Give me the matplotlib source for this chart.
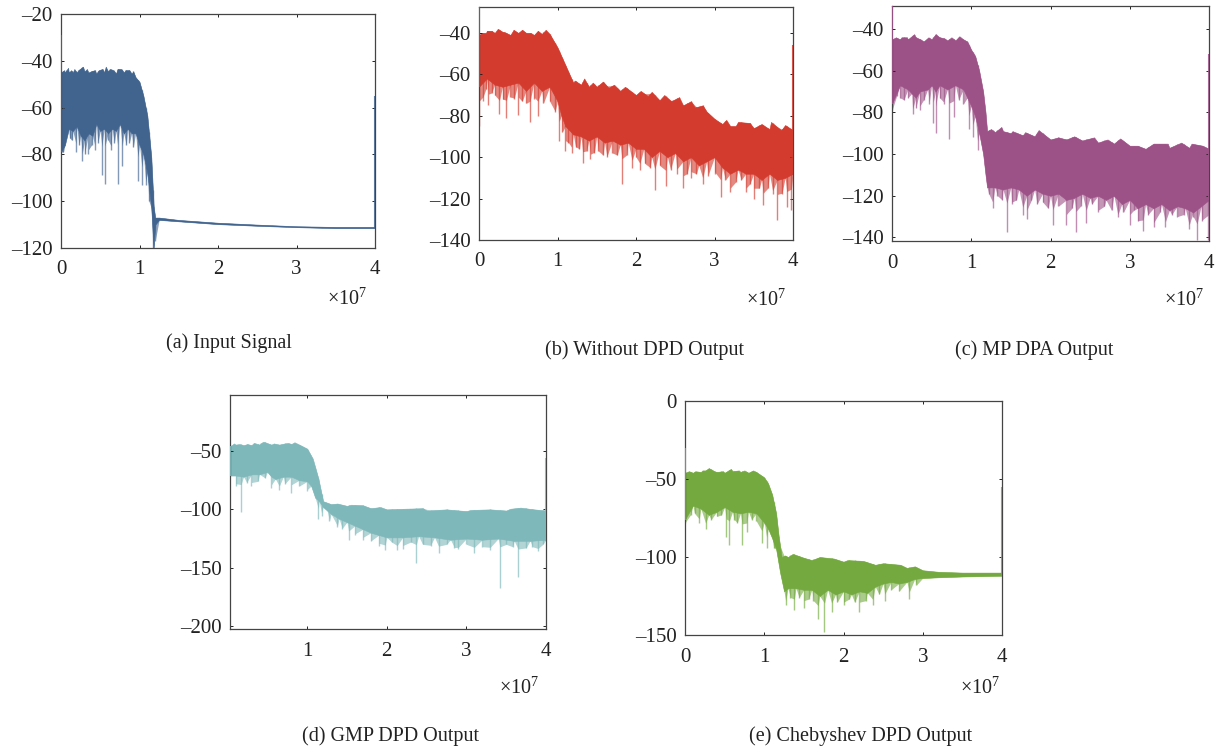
# Спектры выходных сигналов: огибающие и провалы
import matplotlib
matplotlib.use("Agg")
import numpy as np
import matplotlib.pyplot as plt

plt.rcParams['font.family'] = ['Liberation Serif', 'DejaVu Serif']
plt.rcParams['mathtext.default'] = 'regular'
plt.rcParams['mathtext.fontset'] = 'custom'
plt.rcParams['mathtext.rm'] = 'Liberation Serif'

# (a) Input Signal
a_top_x = [0, .05, .1, .15, .2, .3, .35, .45, .55, .6, .7, .8, .9, .95, 1.0, 1.05, 1.1, 1.15, 1.18, 1.2, 1.25, 1.5, 2, 2.5, 3, 3.5, 4]
a_top_y = [-45, -45, -45, -45, -45, -44.5, -45, -45.5, -45, -44.5, -45.5, -45, -45.5, -47, -49, -55, -63.5, -81, -102, -107, -107, -108, -109.2, -110, -110.7, -111, -111]
a_bot_x = [0, .05, .1, .15, .2, .25, .3, .35, .4, .45, .5, .55, .6, .65, .7, .75, .8, .85, .9, .95, 1.0, 1.05, 1.1, 1.15, 1.18, 1.2, 1.25, 1.5, 2, 2.5, 3, 3.5, 4]
a_bot_y = [-79, -76, -69, -70, -68, -72, -74, -71, -72, -67, -70, -69, -71, -69, -70, -67, -71, -69, -71, -71, -76, -80, -88, -103, -120, -110, -108, -108.6, -109.8, -110.5, -111.1, -111.5, -111.5]
a_dip_x = [.03, .07, .11, .14, .19, .23, .27, .3, .35, .39, .43, .47, .52, .56, .6, .64, .68, .72, .78, .83, .87, .92, .98, 1.03, 1.08, 1.12, 1.17, 1.2]
a_dip_y = [-79, -72, -73, -74, -79, -76, -83, -80, -80, -76, -78, -75, -89, -92.5, -74, -78, -75, -92.5, -85, -76, -75, -77, -91.5, -93, -93, -100, -120, -117]
a_peak_x = [.04, .09, .13, .17, .22, .28, .33, .38, .43, .48, .53, .57, .62, .67, .72, .77, .82, .87, .92]
a_peak_y = [-44, -43, -44, -43.5, -44, -42.5, -43.5, -44.5, -44, -44, -43.5, -42.5, -43.5, -44, -43.5, -43.5, -44, -44, -44.5]
a_edges = [-29, -55]

# (b) Without DPD Output
b_top_x = [0, .1, .2, .3, .4, .5, .6, .7, .8, .9, 1.0, 1.1, 1.2, 1.3, 1.4, 1.5, 1.65, 1.8, 2.0, 2.15, 2.3, 2.45, 2.6, 2.75, 2.9, 3.0, 3.1, 3.2, 3.3, 3.5, 3.7, 3.85, 4.0]
b_top_y = [-41, -40, -40, -39.5, -41, -40, -40, -41, -40.5, -40.5, -47, -55.5, -64, -65, -66, -66, -66.5, -68, -70, -70.5, -72.5, -73, -75, -76, -78, -81.5, -84, -85, -85, -86, -86.5, -87, -87]
b_bot_x = [0, .1, .2, .3, .4, .5, .6, .7, .8, .9, 1.0, 1.05, 1.1, 1.2, 1.3, 1.4, 1.5, 1.6, 1.7, 1.8, 1.9, 2.0, 2.1, 2.2, 2.3, 2.4, 2.5, 2.6, 2.7, 2.8, 2.9, 3.0, 3.1, 3.2, 3.3, 3.4, 3.5, 3.6, 3.7, 3.8, 3.9, 4.0]
b_bot_y = [-66, -62, -65, -66, -65, -64, -68, -64, -68, -66, -73, -80, -85, -89, -90, -92, -90, -93, -92, -94, -93, -96, -96, -100, -97, -100, -98, -102, -100, -104, -102, -100, -105, -108, -106, -108, -108, -111, -108, -111, -110, -108]
b_dip_x = [0, .05, .09, .12, .16, .2, .26, .3, .35, .4, .45, .5, .55, .6, .65, .7, .75, .82, .9, .97, 1.02, 1.06, 1.1, 1.14, 1.18, 1.23, 1.28, 1.32, 1.37, 1.42, 1.47, 1.52, 1.58, 1.63, 1.7, 1.76, 1.82, 1.88, 1.95, 2.0, 2.05, 2.11, 2.18, 2.24, 2.3, 2.38, 2.44, 2.52, 2.6, 2.65, 2.7, 2.77, 2.85, 2.92, 3.0, 3.08, 3.14, 3.2, 3.27, 3.34, 3.4, 3.45, 3.5, 3.57, 3.62, 3.68, 3.74, 3.8, 3.86, 3.92, 3.98]
b_dip_y = [-85, -73, -67, -75, -69, -70, -79, -72, -81, -71, -72, -79.5, -73, -74, -83, -72, -80, -74, -73, -78, -92, -88, -97, -93, -98, -95, -96, -103, -97, -101, -98, -97, -99, -100, -98, -99, -113, -99, -105, -100, -106, -103, -105, -116, -104, -114, -106, -108, -115, -108, -110, -108, -113, -109, -108, -119, -111, -117, -112, -111, -117, -113, -120, -115, -123, -115, -118, -130.5, -118, -124, -125.5]
b_peak_x = [.04, .1, .16, .24, .32, .44, .55, .66, .75, .85, 1.22, 1.34, 1.45, 1.58, 1.72, 1.86, 2.06, 2.2, 2.36, 2.55, 2.7, 2.85, 3.15, 3.3, 3.45, 3.6, 3.72, 3.9]
b_peak_y = [-40, -39, -39, -38, -39.5, -38.5, -38.5, -40, -39, -38.5, -63, -62, -64, -63.5, -65, -66, -68, -68.5, -70, -71, -73, -75, -82, -83, -83.5, -84, -83, -84.5]
b_edges = [-27.5, -46]

# (c) MP DPA Output
c_top_x = [0, .1, .2, .3, .4, .5, .6, .7, .8, .9, .95, 1.0, 1.05, 1.1, 1.15, 1.18, 1.2, 1.3, 1.4, 1.5, 1.65, 1.8, 2.0, 2.2, 2.4, 2.6, 2.8, 3.0, 3.2, 3.5, 3.75, 4]
c_top_y = [-45, -45, -45, -44, -46, -45, -44, -45.5, -45.5, -45, -46, -50, -53, -60, -70, -80, -89, -89.5, -89, -90, -91, -91.5, -93, -93, -93.5, -94.5, -95, -96, -97.5, -97, -97, -97.5]
c_bot_x = [0, .1, .2, .25, .3, .35, .45, .5, .55, .6, .7, .8, .9, .95, 1.0, 1.05, 1.1, 1.15, 1.18, 1.2, 1.3, 1.4, 1.5, 1.6, 1.7, 1.8, 1.9, 2.0, 2.1, 2.2, 2.3, 2.4, 2.5, 2.6, 2.7, 2.8, 2.9, 3.0, 3.1, 3.2, 3.3, 3.4, 3.5, 3.6, 3.7, 3.8, 3.9, 4.0]
c_bot_y = [-76, -67, -69, -71, -73, -70, -69, -67, -70, -67, -69, -67, -69, -73, -77, -82, -90, -100, -110, -116, -116, -117, -116, -117, -120, -117, -119, -120, -119, -122, -121, -119, -121, -120, -122, -120, -124, -122, -126, -124, -126, -124, -127, -125, -126, -128, -125, -122]
c_dip_x = [0, .06, .1, .15, .2, .26, .3, .35, .4, .47, .52, .55, .6, .65, .72, .78, .84, .9, .97, 1.02, 1.08, 1.22, 1.27, 1.33, 1.39, 1.45, 1.51, 1.57, 1.65, 1.7, 1.76, 1.83, 1.9, 1.97, 2.03, 2.1, 2.2, 2.27, 2.32, 2.38, 2.45, 2.52, 2.6, 2.68, 2.77, 2.85, 2.92, 3.0, 3.05, 3.1, 3.17, 3.23, 3.3, 3.38, 3.45, 3.53, 3.6, 3.68, 3.75, 3.8, 3.85, 3.91, 3.99]
c_dip_y = [-79, -72, -73, -74, -73, -81, -78, -79, -74, -76, -85, -90, -73, -76, -93, -82, -74, -76, -88, -92, -98, -119, -126, -120, -122, -137.5, -124, -122, -129, -131, -122, -124, -123, -126, -134, -125, -134, -126, -137.5, -125, -133, -124, -128, -125, -127, -130, -128, -134, -127, -132, -137, -129, -135, -128, -135, -129, -130, -129, -136, -130, -141, -132, -141]
c_peak_x = [.05, .12, .19, .28, .36, .46, .55, .66, .75, .85, 1.25, 1.38, 1.52, 1.68, 1.85, 2.1, 2.3, 2.55, 2.72, 2.88, 3.1, 3.3, 3.48, 3.65, 3.78, 3.92]
c_peak_y = [-44, -44, -44, -42.5, -45, -44, -42.5, -44.5, -44, -43.5, -88, -87, -89, -89.5, -88.5, -92, -91.5, -92, -93, -92.5, -96, -95, -95, -94.5, -95, -96]
c_edges = [-29, -52]

# (d) GMP DPD Output
d_top_x = [.03, .1, .2, .3, .4, .45, .55, .65, .8, .9, 1.0, 1.07, 1.14, 1.2, 1.3, 1.5, 1.8, 2, 2.5, 3, 3.5, 4]
d_top_y = [-46, -44.5, -45, -45, -44.5, -44, -44.5, -44.5, -44, -44.5, -48, -56.5, -73.5, -93, -95.5, -97, -99, -100, -101, -101.5, -101, -101]
d_bot_x = [.03, .1, .2, .3, .4, .5, .55, .6, .7, .8, .9, 1.0, 1.05, 1.1, 1.15, 1.2, 1.25, 1.3, 1.4, 1.5, 1.6, 1.7, 1.8, 1.9, 2.0, 2.2, 2.4, 2.6, 2.8, 3.0, 3.2, 3.4, 3.6, 3.8, 4]
d_bot_y = [-71, -71, -72, -70, -70, -68, -72, -74, -72, -72, -75, -76, -80, -90, -93, -98, -101, -104, -108, -111, -114, -117, -120, -122, -124, -124, -123, -124, -126, -125, -126, -125, -127, -127, -126]
d_dip_x = [.1, .17, .24, .3, .38, .47, .55, .65, .72, .8, .9, 1.0, 1.14, 1.18, 1.28, 1.38, 1.44, 1.52, 1.6, 1.7, 1.8, 1.9, 1.98, 2.06, 2.13, 2.2, 2.3, 2.37, 2.45, 2.55, 2.65, 2.75, 2.85, 2.9, 3.0, 3.1, 3.2, 3.3, 3.42, 3.5, 3.58, 3.65, 3.75, 3.83, 3.9, 3.96]
d_dip_y = [-80, -102, -77, -80, -76, -73, -82, -83, -78, -86, -80, -84, -108, -106, -110, -115, -117, -126, -122, -126, -127, -131, -135, -128, -135, -134, -128, -146, -130, -131, -137, -130, -133, -134, -130, -137, -132, -135, -167, -130, -132, -158, -133, -132, -136, -130]
d_peak_x = [.08, .15, .25, .33, .41, .45, .58, .68, .76, .84, 1.24, 1.38, 1.55, 1.7, 1.92, 2.2, 2.45, 2.75, 3.05, 3.3, 3.55, 3.68, 3.85]
d_peak_y = [-43.5, -44, -44, -43, -43.5, -42, -43.5, -44, -43, -42.5, -94, -95, -96, -96.5, -98, -99.5, -99, -100, -100.5, -100, -99.5, -98.5, -100]
d_edges = [-46, -56]

# (e) Chebyshev DPD Output
e_top_x = [0, .1, .2, .3, .4, .5, .6, .7, .8, .9, 1.0, 1.05, 1.1, 1.15, 1.18, 1.22, 1.3, 1.6, 2.0, 2.4, 2.8, 3.0, 3.2, 3.5, 4]
e_top_y = [-46, -46, -45.5, -44.5, -45.5, -46, -45, -45.5, -46, -45.5, -49, -53, -60, -72, -86, -100, -100, -102, -103, -105, -107, -108.5, -109.5, -110, -110]
e_bot_x = [0, .1, .2, .3, .4, .5, .6, .7, .8, .9, 1.0, 1.05, 1.1, 1.15, 1.2, 1.25, 1.3, 1.4, 1.5, 1.6, 1.7, 1.8, 1.9, 2.0, 2.1, 2.2, 2.3, 2.4, 2.5, 2.6, 2.7, 2.8, 2.9, 3.0, 3.2, 3.5, 4]
e_bot_y = [-76, -67, -69, -73, -71, -68, -71, -72, -71, -72, -78, -82, -88, -95, -110, -122, -120, -120, -121, -121, -125, -121, -124, -122, -124, -122, -123, -119, -117, -116, -117, -116, -114, -113.5, -113, -112.5, -112]
e_dip_x = [0, .07, .12, .18, .26, .33, .4, .46, .52, .56, .62, .66, .72, .78, .84, .9, .97, 1.03, 1.12, 1.27, 1.33, 1.38, 1.44, 1.5, 1.56, 1.62, 1.68, 1.76, 1.85, 1.92, 2.0, 2.07, 2.14, 2.2, 2.28, 2.37, 2.45, 2.52, 2.6, 2.7, 2.83, 2.92]
e_dip_y = [-78, -73, -72, -78, -82, -76, -74, -73, -87, -92, -76, -78, -92, -84, -76, -77, -91, -94, -94, -131, -126, -134, -126, -133, -127, -128, -140, -148, -135, -129, -131, -127, -129, -135, -128, -131, -124, -128, -121, -122, -127, -118]
e_peak_x = [.05, .13, .22, .3, .37, .48, .58, .68, .75, .86, 1.26, 1.36, 1.5, 1.7, 1.88, 2.05, 2.25, 2.5, 2.72, 2.9]
e_peak_y = [-45, -45, -44.5, -43, -45, -45, -43.5, -44.5, -44.5, -44.5, -99, -98, -100.5, -100, -101, -102, -102.5, -104, -105, -106]
e_edges = [-30, -55]

x_ticks = [0, 1, 2, 3, 4]
captions = ['(a) Input Signal', '(b) Without DPD Output', '(c) MP DPA Output', '(d) GMP DPD Output', '(e) Chebyshev DPD Output']
colors = ['#41648f', '#d33b2e', '#9d5287', '#7fb8ba', '#73a93f']

W, H = 1223, 746
fig = plt.figure(figsize=(W / 100, H / 100), dpi=100)


def zigzag(x1, y1, x2, y2):
    # две кривые в одну ломаную, отсортированную по x
    xz = np.concatenate([x1, x2])
    yz = np.concatenate([y1, y2])
    order = np.argsort(xz, kind='stable')
    return xz[order], yz[order]


def panel(box, top, bot, dip, peak, edges, color, xlim, ylim, yt, cap, cap_xy, exp_xy):
    # box - left, top, right, bottom в пикселях
    l, t, r, b = box
    ax = fig.add_axes([l / W, 1 - b / H, (r - l) / W, (b - t) / H])
    up_x, up_y = zigzag(top[0], top[1], peak[0], peak[1])
    xs = np.unique(np.concatenate([up_x, bot[0], dip[0]]))
    upper = np.interp(xs, up_x, up_y)
    lower = np.interp(xs, bot[0], bot[1])
    ax.fill_between(xs, lower, upper, color=color, lw=0.4)
    # бледная бахрома снизу: зубцы не глубже 7 дБ от полосы
    fr_x, fr_y = zigzag(np.array(bot[0], float), np.array(bot[1], float), np.array(dip[0], float),
                        np.maximum(dip[1], np.interp(dip[0], bot[0], bot[1]) - 7))
    ax.fill_between(fr_x, fr_y, np.interp(fr_x, xs, upper), color=color, lw=0, alpha=0.6)
    # провалы вниз, от полосы
    ax.vlines(dip[0], dip[1], np.interp(dip[0], xs, upper), color=color, lw=1.0, alpha=0.65)
    # выбросы на краях спектра
    ax.vlines(xs[0] + 0.004, lower[0], edges[0], color=color, lw=1.3, zorder=3)
    ax.vlines(xs[-1] - 0.004, lower[-1], edges[1], color=color, lw=1.5, alpha=0.85, zorder=3)
    ax.set_xlim(xlim)
    ax.set_ylim(ylim)
    shown = [v for v in x_ticks if v >= xlim[0]]
    ax.set_xticks(shown)
    ax.set_xticklabels([str(v) for v in shown])
    ax.set_yticks(yt)
    ax.set_yticklabels([str(v).replace('-', '–') for v in yt])
    ax.tick_params(direction='in', top=True, right=True, length=2.5, width=0.7, labelsize=15, colors='#222222')
    ax.tick_params(axis='x', pad=9)
    ax.tick_params(axis='y', pad=6)
    for s in ax.spines.values():
        s.set_linewidth(0.9)
        s.set_color('#444444')
    fig.text(exp_xy[0] / W, 1 - (exp_xy[1] + 2) / H, '×10$^{7}$', ha='center', va='center', fontsize=14.5, color='#222222')
    fig.text(cap_xy[0] / W, 1 - (cap_xy[1] + 2) / H, cap, ha='center', va='center', fontsize=14.5, color='#222222')


panel((61, 14, 375, 248), (a_top_x, a_top_y), (a_bot_x, a_bot_y), (a_dip_x, a_dip_y), (a_peak_x, a_peak_y), a_edges, colors[0],
      (0, 4.0), (-120, -20), [-120, -100, -80, -60, -40, -20], captions[0], (229, 341), (347, 297))
panel((479, 7, 793, 240), (b_top_x, b_top_y), (b_bot_x, b_bot_y), (b_dip_x, b_dip_y), (b_peak_x, b_peak_y), b_edges, colors[1],
      (0, 4.0), (-140, -27.5), [-140, -120, -100, -80, -60, -40], captions[1], (645, 348), (766, 298))
panel((892, 6, 1209, 241), (c_top_x, c_top_y), (c_bot_x, c_bot_y), (c_dip_x, c_dip_y), (c_peak_x, c_peak_y), c_edges, colors[2],
      (0, 4.0), (-141.7, -29), [-140, -120, -100, -80, -60, -40], captions[2], (1034, 348), (1184, 298))
panel((230, 395, 546, 629), (d_top_x, d_top_y), (d_bot_x, d_bot_y), (d_dip_x, d_dip_y), (d_peak_x, d_peak_y), d_edges, colors[3],
      (0.03, 4.0), (-202.5, -2), [-200, -150, -100, -50], captions[3], (391, 734), (519, 686))
panel((685, 401, 1002, 635), (e_top_x, e_top_y), (e_bot_x, e_bot_y), (e_dip_x, e_dip_y), (e_peak_x, e_peak_y), e_edges, colors[4],
      (0, 4.0), (-150, 0), [-150, -100, -50, 0], captions[4], (861, 734), (980, 686))

fig.savefig('out.png', dpi=100)
